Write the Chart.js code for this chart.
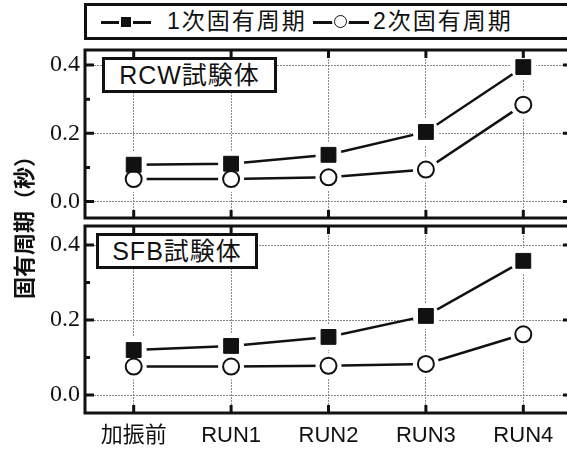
<!DOCTYPE html>
<html>
<head>
<meta charset="utf-8">
<script src="https://cdn.jsdelivr.net/npm/chart.js@4"></script>
<style>
  html, body { margin: 0; padding: 0; background: #fff; }
  body { width: 567px; height: 454px; overflow: hidden; position: relative;
         font-family: "Liberation Sans", "Noto Sans CJK JP", sans-serif; color: #111; }
  canvas { position: absolute; left: 0; }
  #chartRCW { top: 0; }
  #chartSFB { top: 222px; }
  #legend { position: absolute; left: 84px; top: 3px; width: 520px; height: 37px;
            box-sizing: border-box; border: 3px solid #111; background: #fff; z-index: 2; }
  #legend .txt { position: absolute; top: 0; line-height: 31px; font-size: 23px; letter-spacing: 2px; }
  #legend .key { position: absolute; top: 15px; height: 3px; background: #111; }
  #legend .sq { position: absolute; top: -4px; width: 10px; height: 10px; background: #111;
                box-shadow: 0 0 0 2px #fff; }
  #legend .ci { position: absolute; top: -6px; width: 11px; height: 11px; border: 1.5px solid #111;
                border-radius: 50%; background: #fff; box-shadow: 0 0 0 2px #fff; }
  .tag { position: absolute; box-sizing: border-box; border: 3px solid #111; background: #fff;
         text-align: center; font-size: 25px; letter-spacing: 1px; line-height: 30px; z-index: 2; }
  #tagRCW { left: 102px; top: 57px; width: 175px; height: 36px; }
  #tagSFB { left: 96px; top: 233px; width: 162px; height: 36px; }
  #ytitle { position: absolute; left: -75px; top: 207px; width: 200px; height: 30px;
            line-height: 30px; text-align: center; font-size: 22px; font-weight: bold;
            transform: rotate(-90deg); z-index: 2; }
</style>
</head>
<body>
<canvas id="chartRCW" width="600" height="222"></canvas>
<canvas id="chartSFB" width="600" height="232"></canvas>

<div id="legend">
  <span class="key" style="left:14px;width:50px"><i class="sq" style="left:20px"></i></span>
  <span class="txt" style="left:80px">1次固有周期</span>
  <span class="key" style="left:226px;width:56px"><i class="ci" style="left:21px"></i></span>
  <span class="txt" style="left:286px">2次固有周期</span>
</div>
<div class="tag" id="tagRCW">RCW試験体</div>
<div class="tag" id="tagSFB">SFB試験体</div>
<div id="ytitle">固有周期（秒）</div>

<script>
const categories = ["加振前", "RUN1", "RUN2", "RUN3", "RUN4"];

// RCW試験体
const rcwFirst = [0.108, 0.111, 0.137, 0.204, 0.394];
const rcwSecond = [0.066, 0.066, 0.071, 0.094, 0.284];

// SFB試験体
const sfbFirst = [0.120, 0.131, 0.155, 0.211, 0.358];
const sfbSecond = [0.076, 0.076, 0.078, 0.083, 0.162];

const tickValues = [0, 0.1, 0.2, 0.3, 0.4];

const isMajor = v => Math.round(v * 10) % 2 === 0;

// heavy frame round the plot plus short inward tick marks
const framePlugin = {
  id: 'frame',
  afterDraw(chart) {
    const ctx = chart.ctx;
    const a = chart.chartArea;
    const x = chart.scales.x, y = chart.scales.y;
    ctx.save();
    ctx.setLineDash([]);
    ctx.strokeStyle = '#111';
    ctx.lineWidth = 3;
    ctx.beginPath();
    tickValues.forEach(v => {
      const py = y.getPixelForValue(v);
      const len = isMajor(v) ? 9 : 5;
      ctx.moveTo(a.left, py); ctx.lineTo(a.left + len, py);
      ctx.moveTo(a.right, py); ctx.lineTo(a.right - len, py);
    });
    categories.forEach((c, i) => {
      const px = x.getPixelForValue(i);
      ctx.moveTo(px, a.top); ctx.lineTo(px, a.top + 8);
      ctx.moveTo(px, a.bottom); ctx.lineTo(px, a.bottom - 8);
    });
    ctx.stroke();
    ctx.strokeRect(a.left, a.top, a.right - a.left, a.bottom - a.top);
    ctx.restore();
  }
};

function makeSets(first, second) {
  return [
    // markers
    { data: first, showLine: false, pointStyle: 'rect', pointRadius: 10.5,
      pointBackgroundColor: '#111', pointBorderColor: '#111', pointBorderWidth: 1, order: 1 },
    { data: second, showLine: false, pointStyle: 'circle', pointRadius: 8,
      pointBackgroundColor: '#fff', pointBorderColor: '#111', pointBorderWidth: 2, order: 1 },
    // connecting lines; the white dots leave a gap round each marker
    { data: first, borderColor: '#111', borderWidth: 2.5, pointRadius: 13,
      pointBackgroundColor: '#fff', pointBorderWidth: 0, order: 2 },
    { data: second, borderColor: '#111', borderWidth: 2.5, pointRadius: 13,
      pointBackgroundColor: '#fff', pointBorderWidth: 0, order: 2 }
  ];
}

// keep label overhang from shrinking the plot area
const noPad = s => { s.paddingTop = 0; s.paddingBottom = 0; s.paddingLeft = 0; s.paddingRight = 0; };

function makeChart(id, first, second, yMax, padTop, showLabels, xHeight) {
  return new Chart(document.getElementById(id), {
    type: 'line',
    data: { labels: categories, datasets: makeSets(first, second) },
    options: {
      responsive: false,
      animation: false,
      events: [],
      layout: { autoPadding: false, padding: { top: padTop, right: 28, left: 0, bottom: 0 } },
      plugins: { legend: { display: false }, tooltip: { enabled: false } },
      scales: {
        x: {
          offset: true,
          grid: { offset: false, drawTicks: false, color: '#8a8a8a', lineWidth: 1 },
          border: { display: false, dash: [2, 1] },
          ticks: {
            display: showLabels, padding: 10, color: '#111',
            font: { family: '"Liberation Sans", "Noto Sans CJK JP", sans-serif', size: 22 }
          },
          afterFit: s => { s.height = xHeight; noPad(s); }
        },
        y: {
          min: -0.048,
          max: yMax,
          grid: {
            drawTicks: false, lineWidth: 1,
            color: c => isMajor(c.tick.value) ? '#8a8a8a' : 'rgba(0,0,0,0)'
          },
          border: { display: false, dash: [2, 1] },
          afterBuildTicks: s => { s.ticks = tickValues.map(v => ({ value: v })); },
          ticks: {
            padding: 5, color: '#111',
            font: { family: '"Liberation Serif", serif', size: 24 },
            callback: v => isMajor(v) ? v.toFixed(1) : ''
          },
          afterFit: s => { s.width = 85; noPad(s); }
        }
      }
    },
    plugins: [framePlugin]
  });
}

makeChart('chartRCW', rcwFirst, rcwSecond, 0.444, 50, false, 4);
makeChart('chartSFB', sfbFirst, sfbSecond, 0.451, 4, true, 41);
</script>
</body>
</html>
